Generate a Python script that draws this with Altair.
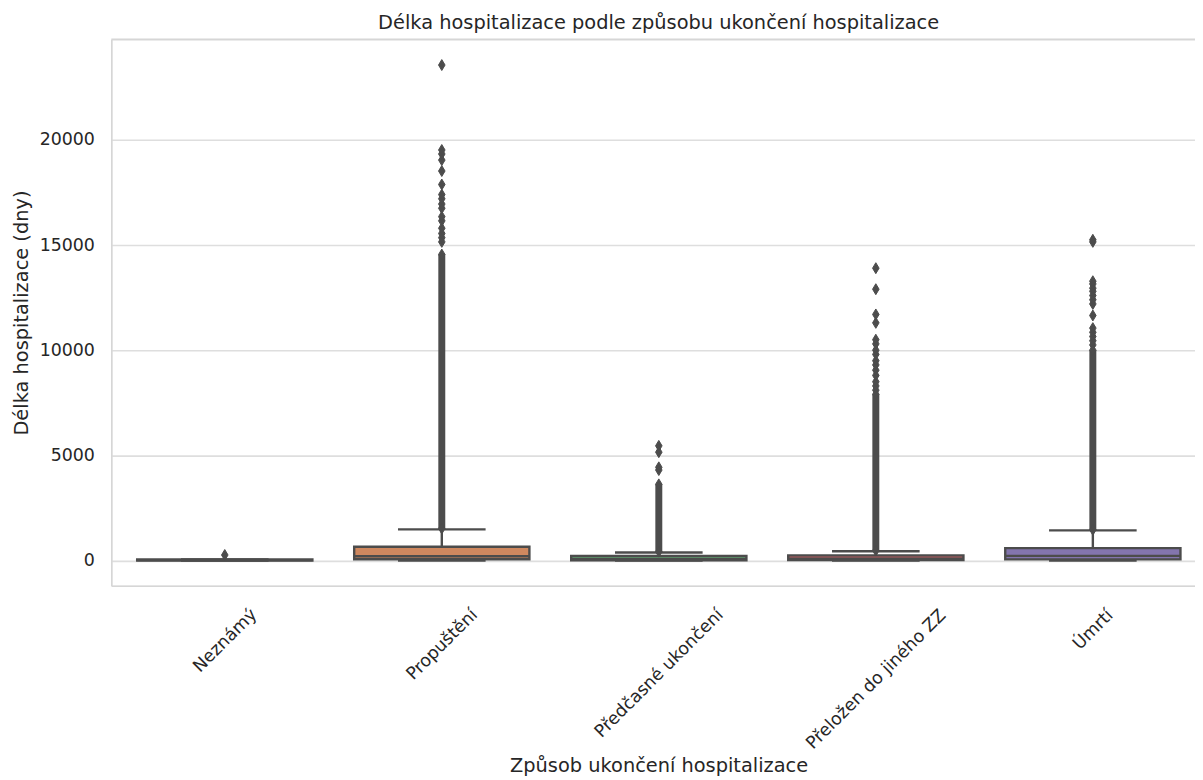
import json
import altair as alt
import pandas as pd

# ---------------- data ----------------
categories = ["Neznámý", "Propuštění", "Předčasné ukončení", "Přeložen do jiného ZZ", "Úmrtí"]
cat_index = [0, 1, 2, 3, 4]
box_colors = ["#5875a4", "#cf885f", "#5f9e6e", "#b55d60", "#8375ae"]

q1 = [0, 60, 10, 15, 50]
median = [15, 200, 60, 80, 220]
q3 = [50, 650, 210, 240, 590]
whisker_lo = [0, 0, 0, 0, 0]
whisker_hi = [50, 1480, 380, 440, 1430]

# dense (overlapping) runs of outliers, drawn as a solid column
dense_cat = [1, 2, 3, 4]
dense_lo = [1520, 420, 470, 1460]
dense_hi = [14550, 3620, 7900, 10000]

# individually visible outliers
out_neznamy = [260]
out_propusteni = [15150, 15350, 15550, 15800, 16150, 16350, 16750, 16950, 17200,
                  17400, 17880, 18520, 19040, 19330, 19520, 23560]
out_predcasne = [4300, 4430, 5150, 5450]
out_prelozen = [8100, 8300, 8500, 8800, 9050, 9300, 9500, 9800, 10000, 10300,
                10500, 11300, 11700, 12900, 13900]
out_umrti = [10250, 10450, 10650, 10850, 11050, 11650, 12200, 12400, 12600,
             12800, 12950, 13150, 13280, 15150, 15250]

y_ticks = [0, 5000, 10000, 15000, 20000]

# ---------------- tables ----------------
box_df = pd.DataFrame({
    "i": cat_index, "cat": categories, "q1": q1, "med": median, "q3": q3,
    "lo": whisker_lo, "hi": whisker_hi,
})
dense_df = pd.DataFrame({"i": dense_cat, "lo": dense_lo, "hi": dense_hi})
out_lists = [out_neznamy, out_propusteni, out_predcasne, out_prelozen, out_umrti]
out_df = pd.DataFrame(
    [{"i": i, "v": v} for i, lst in zip(cat_index, out_lists) for v in lst]
    + [{"i": i, "v": v} for i, v in zip(dense_cat, dense_hi)]
    + [{"i": i, "v": v} for i, v in zip(dense_cat, dense_lo)]
)

# ---------------- style ----------------
W, H = 1091, 550
GRAY = "#4c4c4c"
TXT = "#262626"
SPINE = "#d6d6d6"
FONT = "DejaVu Sans"
LW = 2.4
STEP = 220.5
diamond = "M0,-1L0.6,0L0,1L-0.6,0Z"

# x-label padding so the rotated labels are centred under their ticks (matplotlib style)
pads = [55, 59, 88, 94, 44]
label_pad = {
    "condition": [{"test": f"datum.value == {i}", "value": p} for i, p in zip(cat_index[1:], pads[1:])],
    "value": pads[0],
}
label_expr = json.dumps(categories, ensure_ascii=False) + "[datum.value]"

x_scale = alt.Scale(domain=[-0.5, -0.5 + W / STEP], nice=False, zero=False)
y_scale = alt.Scale(domain=[-1200, 24780], nice=False, zero=False)

x_axis = alt.Axis(
    values=cat_index, labelExpr=label_expr, labelAngle=315, labelAlign="center",
    labelBaseline="middle", labelFontSize=17.5, labelColor=TXT, labelFont=FONT,
    labelPadding=label_pad, labelLimit=400, labelOverlap=False, labelFlush=False,
    labelBound=False, ticks=False, tickSize=0, grid=False,
    domainColor=SPINE, domainWidth=1.6,
    title="Způsob ukončení hospitalizace", titleFontSize=19.5, titleFont=FONT,
    titleFontWeight="normal", titleColor=TXT, titleX=551, titleY=187,
    titleAlign="center", titleBaseline="alphabetic",
)
y_axis = alt.Axis(
    values=y_ticks, format="d", labelFontSize=17.5, labelColor=TXT, labelFont=FONT,
    labelPadding=17, ticks=False, tickSize=0, grid=True, gridColor="#dedede",
    gridWidth=1.6, domainColor=SPINE, domainWidth=1.6,
    title="Délka hospitalizace (dny)", titleFontSize=19.5, titleFont=FONT,
    titleFontWeight="normal", titleColor=TXT, titleX=-90, titleY=H / 2,
    titleAngle=270, titleAlign="center", titleBaseline="middle",
)

X = alt.X("i:Q", scale=x_scale, axis=x_axis)


def Y(field):
    return alt.Y(f"{field}:Q", scale=y_scale, axis=y_axis)


base = alt.Chart(box_df)

whisk_up = base.mark_rule(color=GRAY, strokeWidth=LW).encode(x=X, y=Y("q3"), y2="hi:Q")
whisk_dn = base.mark_rule(color=GRAY, strokeWidth=LW).encode(x=X, y=Y("lo"), y2="q1:Q")
cap_up = base.mark_tick(orient="horizontal", size=STEP * 0.4, thickness=LW, color=GRAY,
                        opacity=1).encode(x=X, y=Y("hi"))
cap_dn = base.mark_tick(orient="horizontal", size=STEP * 0.4, thickness=LW, color=GRAY,
                        opacity=1).encode(x=X, y=Y("lo"))
boxes = base.mark_bar(size=STEP * 0.8, stroke=GRAY, strokeWidth=LW, opacity=1).encode(
    x=X, y=Y("q1"), y2="q3:Q",
    color=alt.Color("cat:N", scale=alt.Scale(domain=categories, range=box_colors), legend=None),
)
medians = base.mark_tick(orient="horizontal", size=STEP * 0.8, thickness=LW, color=GRAY,
                         opacity=1).encode(x=X, y=Y("med"))
dense = alt.Chart(dense_df).mark_rule(color=GRAY, strokeWidth=7).encode(
    x=X, y=Y("lo"), y2="hi:Q")
fliers = alt.Chart(out_df).mark_point(shape=diamond, filled=True, size=121, color=GRAY,
                                      stroke=GRAY, strokeWidth=1, opacity=1).encode(
    x=X, y=Y("v"))
top_spine = alt.Chart(pd.DataFrame({"a": [0]})).mark_rule(
    color=SPINE, strokeWidth=1.6).encode(x=alt.value(0), x2=alt.value(W), y=alt.value(0))

chart = alt.layer(
    whisk_up, whisk_dn, cap_up, cap_dn, boxes, medians, dense, fliers, top_spine
).properties(
    width=W, height=H,
    title=alt.TitleParams(
        text="Délka hospitalizace podle způsobu ukončení hospitalizace",
        fontSize=19.5, font=FONT, fontWeight="normal", color=TXT,
        anchor="middle", dx=5.5, dy=17, baseline="alphabetic", offset=7,
    ),
    autosize=alt.AutoSizeParams(type="none"),
    padding={"left": 104, "top": 29, "right": 0, "bottom": 193},
).configure_view(stroke="transparent").configure(background="white", font=FONT)

chart.save("out.html", embed_options={"renderer": "svg", "actions": False})
